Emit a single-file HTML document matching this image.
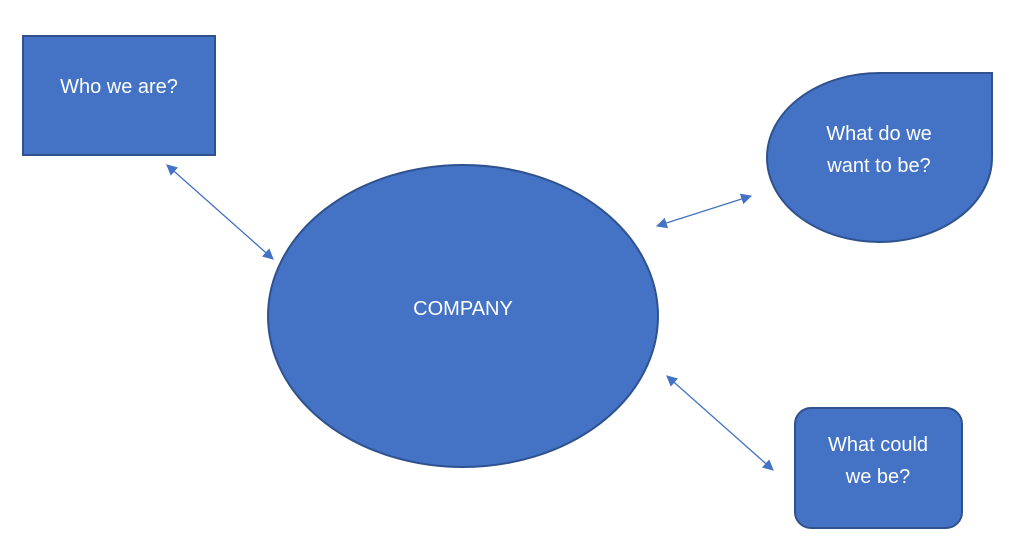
<!DOCTYPE html>
<html><head><style>
html,body{margin:0;padding:0;background:#fff;}
svg{display:block;}
text{font-family:"Liberation Sans",sans-serif;font-size:20px;fill:#fff;}
</style></head><body>
<svg width="1024" height="553" viewBox="0 0 1024 553">
<defs>
<marker id="a" viewBox="0 0 10 10" refX="9" refY="5" markerWidth="11" markerHeight="11" orient="auto-start-reverse" markerUnits="userSpaceOnUse">
<path d="M0,0 L10,5 L0,10 z" fill="#4472C4"/>
</marker>
</defs>
<g fill="#4472C4" stroke="#2F528F" stroke-width="2">
<rect x="23" y="36" width="192" height="119"/>
<ellipse cx="463" cy="316" rx="195" ry="151"/>
<path d="M992 73 L992 157.5 A112.5 84.5 0 1 1 879.5 73 Z"/>
<rect x="795" y="408" width="167" height="120" rx="16"/>
</g>
<g stroke="#4472C4" stroke-width="1.3" marker-start="url(#a)" marker-end="url(#a)">
<line x1="167" y1="165" x2="273" y2="259"/>
<line x1="657" y1="226" x2="751" y2="196"/>
<line x1="667" y1="376" x2="773" y2="470"/>
</g>
<g text-anchor="middle">
<text x="119" y="93">Who we are?</text>
<text x="463" y="315">COMPANY</text>
<text x="879" y="140">What do we</text>
<text x="879" y="172">want to be?</text>
<text x="878" y="451">What could</text>
<text x="878" y="483">we be?</text>
</g>
</svg>
</body></html>
